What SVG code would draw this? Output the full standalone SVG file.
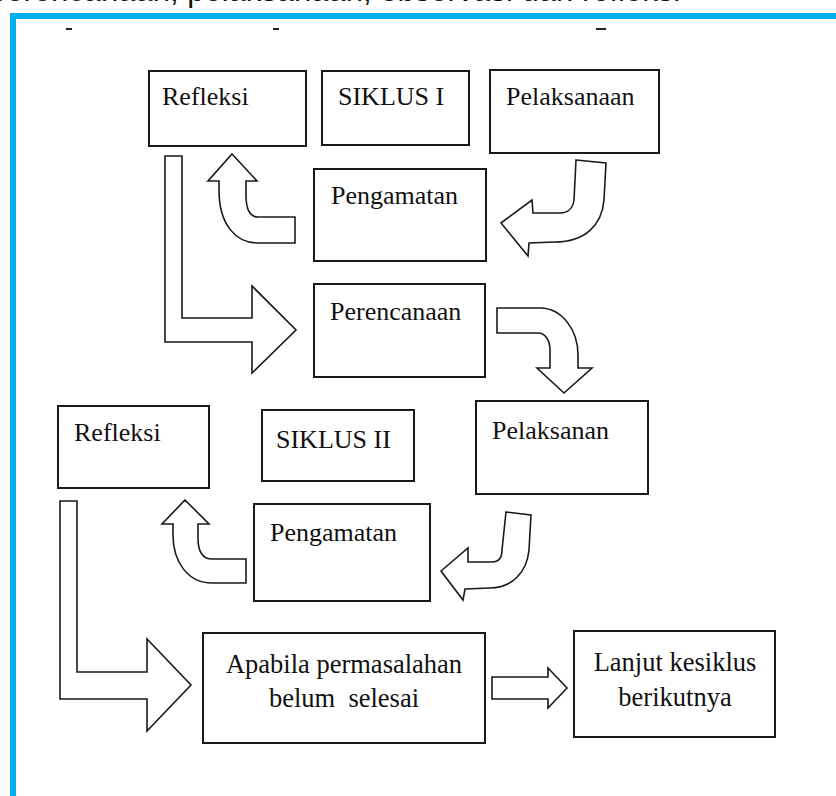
<svg xmlns="http://www.w3.org/2000/svg" width="836" height="796" viewBox="0 0 836 796">
<style>
.box{fill:#fff;stroke:#1a1a1a;stroke-width:2}
.arr{fill:#fff;stroke:#1a1a1a;stroke-width:1.6;stroke-linejoin:miter}
.t{font-family:"Liberation Serif","Times New Roman",serif;font-size:26px;fill:#111}
.tc{font-family:"Liberation Serif","Times New Roman",serif;font-size:26.5px;fill:#111;text-anchor:middle}
.top{font-family:"Liberation Sans",Arial,sans-serif;font-size:31px;fill:#111}
</style>
<rect width="836" height="796" fill="#fff"/>
<text class="top" x="-11" y="0.5">perencanaan, pelaksanaan, observasi dan refleksi</text>
<g id="frame">
<rect x="10" y="13" width="826" height="6" fill="#00AEEF"/>
<rect x="10" y="13" width="6" height="783" fill="#00AEEF"/>
<rect x="66" y="28" width="6" height="2" fill="#222"/>
<rect x="273" y="28" width="6" height="2" fill="#222"/>
<rect x="596" y="28" width="10" height="2" fill="#222"/>
</g>
<g id="connectors">
<path class="arr" d="M232,154 L257,181 L246,181 L246,195 Q246,217 258,217 L295,217 L295,243 L258,243 C236,243 219,225 219,190 L219,181 L208,181 Z"/>
<path class="arr" d="M576,160 L606,163 L604,200 C602,225 585,242 555,242 L529,243 L528,256 L501,223 L532,200 L533,213 L560,213 C568,213 573,208 574,200 Z"/>
<path class="arr" d="M165,156 L182,156 L182,318 L252,318 L252,286 L296,330 L252,373 L252,342 L165,342 Z"/>
<path class="arr" d="M497,308 L540,308 C562,308 578,330 578,355 L578,368 L592,368 L564,393 L537,368 L550,368 L550,350 C550,340 545,333 538,333 L497,333 Z"/>
<path class="arr" d="M185,500 L209,524 L198,524 L198,538 C198,552 202,559 212,559 L246,559 L246,583 L212,583 C188,583 173,562 173,535 L173,524 L162,524 Z"/>
<path class="arr" d="M506,512 L531,515 L529,550 C527,572 512,588 490,588 L465,589 L463,600 L441,571 L468,548 L468,562 L492,562 C498,562 502,558 502,550 Z"/>
<path class="arr" d="M60,501 L77,501 L77,672 L147,672 L147,639 L191,685 L147,731 L147,699 L60,699 Z"/>
<path class="arr" d="M492,677 L548,677 L548,668 L567,688 L548,708 L548,699 L492,699 Z"/>
</g>
<g id="refleksi1"><rect class="box" x="149" y="71" width="157" height="75"/><text class="t" x="162" y="105">Refleksi</text></g>
<g id="siklus1"><rect class="box" x="322" y="71" width="147" height="74"/><text class="t" x="338" y="105">SIKLUS I</text></g>
<g id="pelaksanaan1"><rect class="box" x="490" y="70" width="169" height="83"/><text class="t" x="506" y="105">Pelaksanaan</text></g>
<g id="pengamatan1"><rect class="box" x="314" y="169" width="172" height="92"/><text class="t" x="331" y="204">Pengamatan</text></g>
<g id="perencanaan"><rect class="box" x="314" y="284" width="171" height="93"/><text class="t" x="330" y="320">Perencanaan</text></g>
<g id="refleksi2"><rect class="box" x="58" y="406" width="151" height="82"/><text class="t" x="74" y="441">Refleksi</text></g>
<g id="siklus2"><rect class="box" x="262" y="410" width="152" height="71"/><text class="t" x="276" y="448">SIKLUS II</text></g>
<g id="pelaksanan2"><rect class="box" x="476" y="401" width="172" height="93"/><text class="t" x="492" y="439">Pelaksanan</text></g>
<g id="pengamatan2"><rect class="box" x="254" y="504" width="176" height="97"/><text class="t" x="270" y="541">Pengamatan</text></g>
<g id="apabila"><rect class="box" x="203" y="633" width="282" height="110"/><text class="tc" x="344" y="673">Apabila permasalahan</text><text class="tc" x="344" y="707" xml:space="preserve">belum  selesai</text></g>
<g id="lanjut"><rect class="box" x="574" y="631" width="201" height="106"/><text class="tc" x="675" y="671">Lanjut kesiklus</text><text class="tc" x="675" y="706">berikutnya</text></g>
</svg>
